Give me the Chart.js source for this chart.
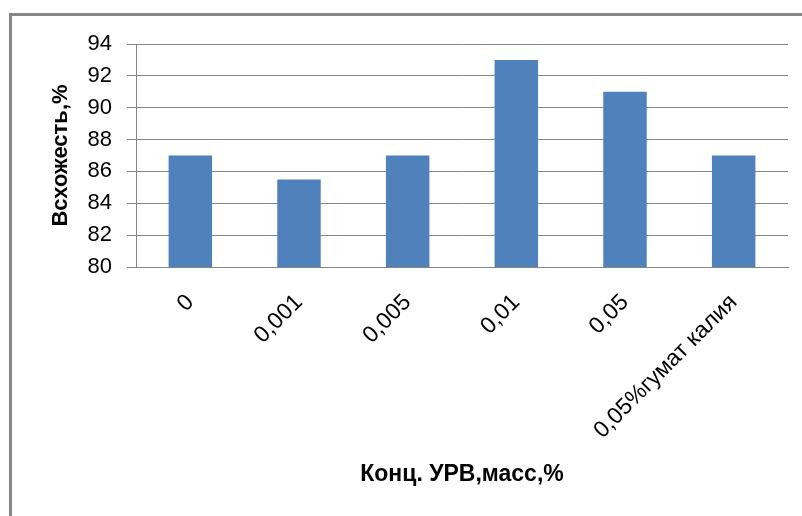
<!DOCTYPE html>
<html>
<head>
<meta charset="utf-8">
<script src="https://cdn.jsdelivr.net/npm/chart.js@4"></script>
<style>
  html, body { margin:0; padding:0; background:#fff; }
  #wrap { position:relative; width:802px; height:516px; overflow:hidden; }
  #frame { position:absolute; left:9px; top:13px; width:820px; height:540px;
           border:3px solid #878787; pointer-events:none; }
  canvas { position:absolute; left:0; top:0; }
</style>
</head>
<body>
<div id="wrap">
  <canvas id="c" width="802" height="516"></canvas>
  <div id="frame"></div>
</div>
<script>
// data
const categories = ['0', '0,001', '0,005', '0,01', '0,05', '0,05%гумат калия'];
const germination = [87, 85.5, 87, 93, 91, 87];
const yMin = 80, yMax = 94, yStep = 2;
const xTitle = 'Конц. УРВ,масс,%';
const yTitle = 'Всхожесть,%';

const FONT = '"Liberation Sans", Arial, sans-serif';
const gridGray = '#868686';

new Chart(document.getElementById('c'), {
  type: 'bar',
  data: {
    labels: categories,
    datasets: [{
      data: germination,
      backgroundColor: '#4f81bd',
      borderWidth: 0,
      categoryPercentage: 1,
      barPercentage: 0.4,
    }],
  },
  options: {
    responsive: false,
    animation: false,
    layout: { padding: { left: 0, top: 44, right: 14, bottom: 0 } },
    plugins: { legend: { display: false }, tooltip: { enabled: false } },
    scales: {
      x: {
        grid: { display: false, drawTicks: false },
        border: { color: gridGray, width: 1 },
        ticks: {
          color: '#000', font: { family: FONT, size: 23 },
          minRotation: 45, maxRotation: 45, padding: 22, autoSkip: false,
        },
        title: {
          display: true, text: xTitle, color: '#000',
          font: { family: FONT, size: 23, weight: 'bold' },
          padding: { top: 0, bottom: 28 },
        },
        afterFit: s => { s.height = 249; },
      },
      y: {
        min: yMin, max: yMax,
        grid: { color: gridGray, lineWidth: 1, tickLength: 9, tickColor: gridGray },
        border: { color: gridGray, width: 1 },
        ticks: {
          stepSize: yStep, color: '#000', padding: 15,
          font: { family: FONT, size: 22 },
        },
        title: {
          display: true, text: yTitle, color: '#000',
          font: { family: FONT, size: 22, weight: 'bold' },
          padding: { top: 48, bottom: 0 },
        },
        afterFit: s => { s.width = 136; },
      },
    },
  },
});
</script>
</body>
</html>
